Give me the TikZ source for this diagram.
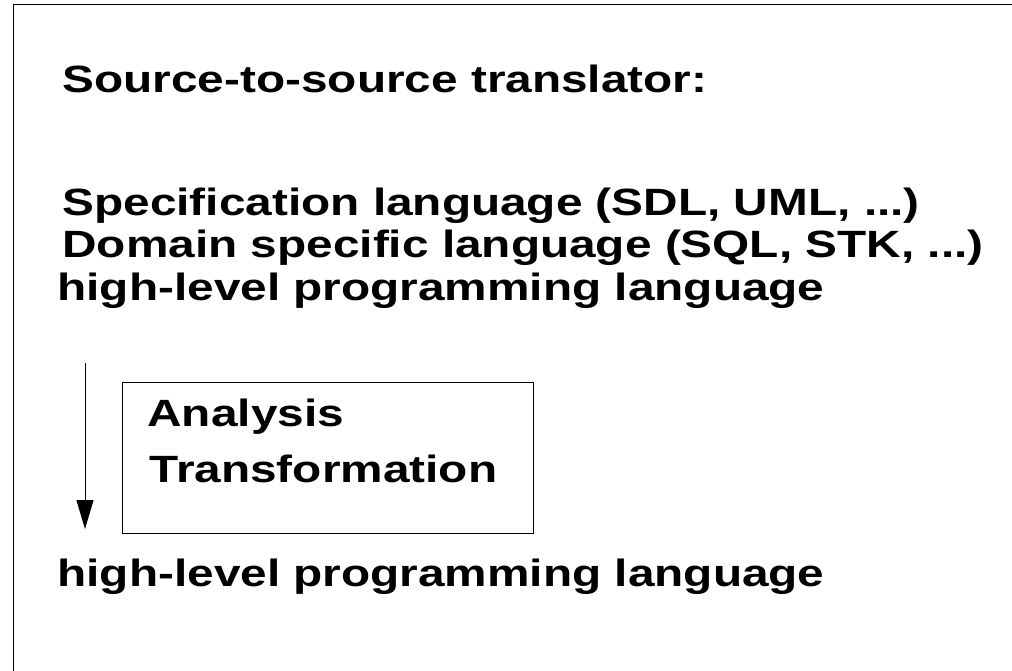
\documentclass[tikz,border=0pt]{standalone}
\usepackage{fontspec}
\setmainfont{Liberation Sans}[FakeStretch=1.257]
\usetikzlibrary{arrows.meta,positioning}

\tikzset{
    txt/.style={anchor=base west, inner sep=0pt, font=\fontsize{38}{45}\selectfont\bfseries},
    stepsbox/.style={draw, line width=1pt, anchor=north west, inner sep=0pt,
                     minimum width=411pt, minimum height=151pt},
}

\begin{document}
\begin{tikzpicture}[x=1pt,y=-1pt,line width=1pt]
\useasboundingbox (0,0) rectangle (1012,671);
\draw (13,671) -- (13,5) -- (1012,5);
\node[txt] (title) at (62,93) {Source-to-source translator:};
\node[txt] (spec) at (62,216) {Specification language (SDL, UML, ...)};
\node[txt] (dsl) at (62,258) {Domain specific language (SQL, STK, ...)};
\node[txt] (hllin) at (57,300) {high-level programming language};
\node[stepsbox] (steps) at (122,382) {};
\node[txt] (ana) at (147,426) {Analysis};
\node[txt] (trans) at (149,482) {Transformation};
\node[txt] (hllout) at (57,586) {high-level programming language};
\coordinate (arrtop) at (85,363);
\coordinate (arrbot) at (85,529);
\draw[-{Triangle[width=17pt,length=29pt]}] (arrtop) -- (arrbot);
\end{tikzpicture}
\end{document}
